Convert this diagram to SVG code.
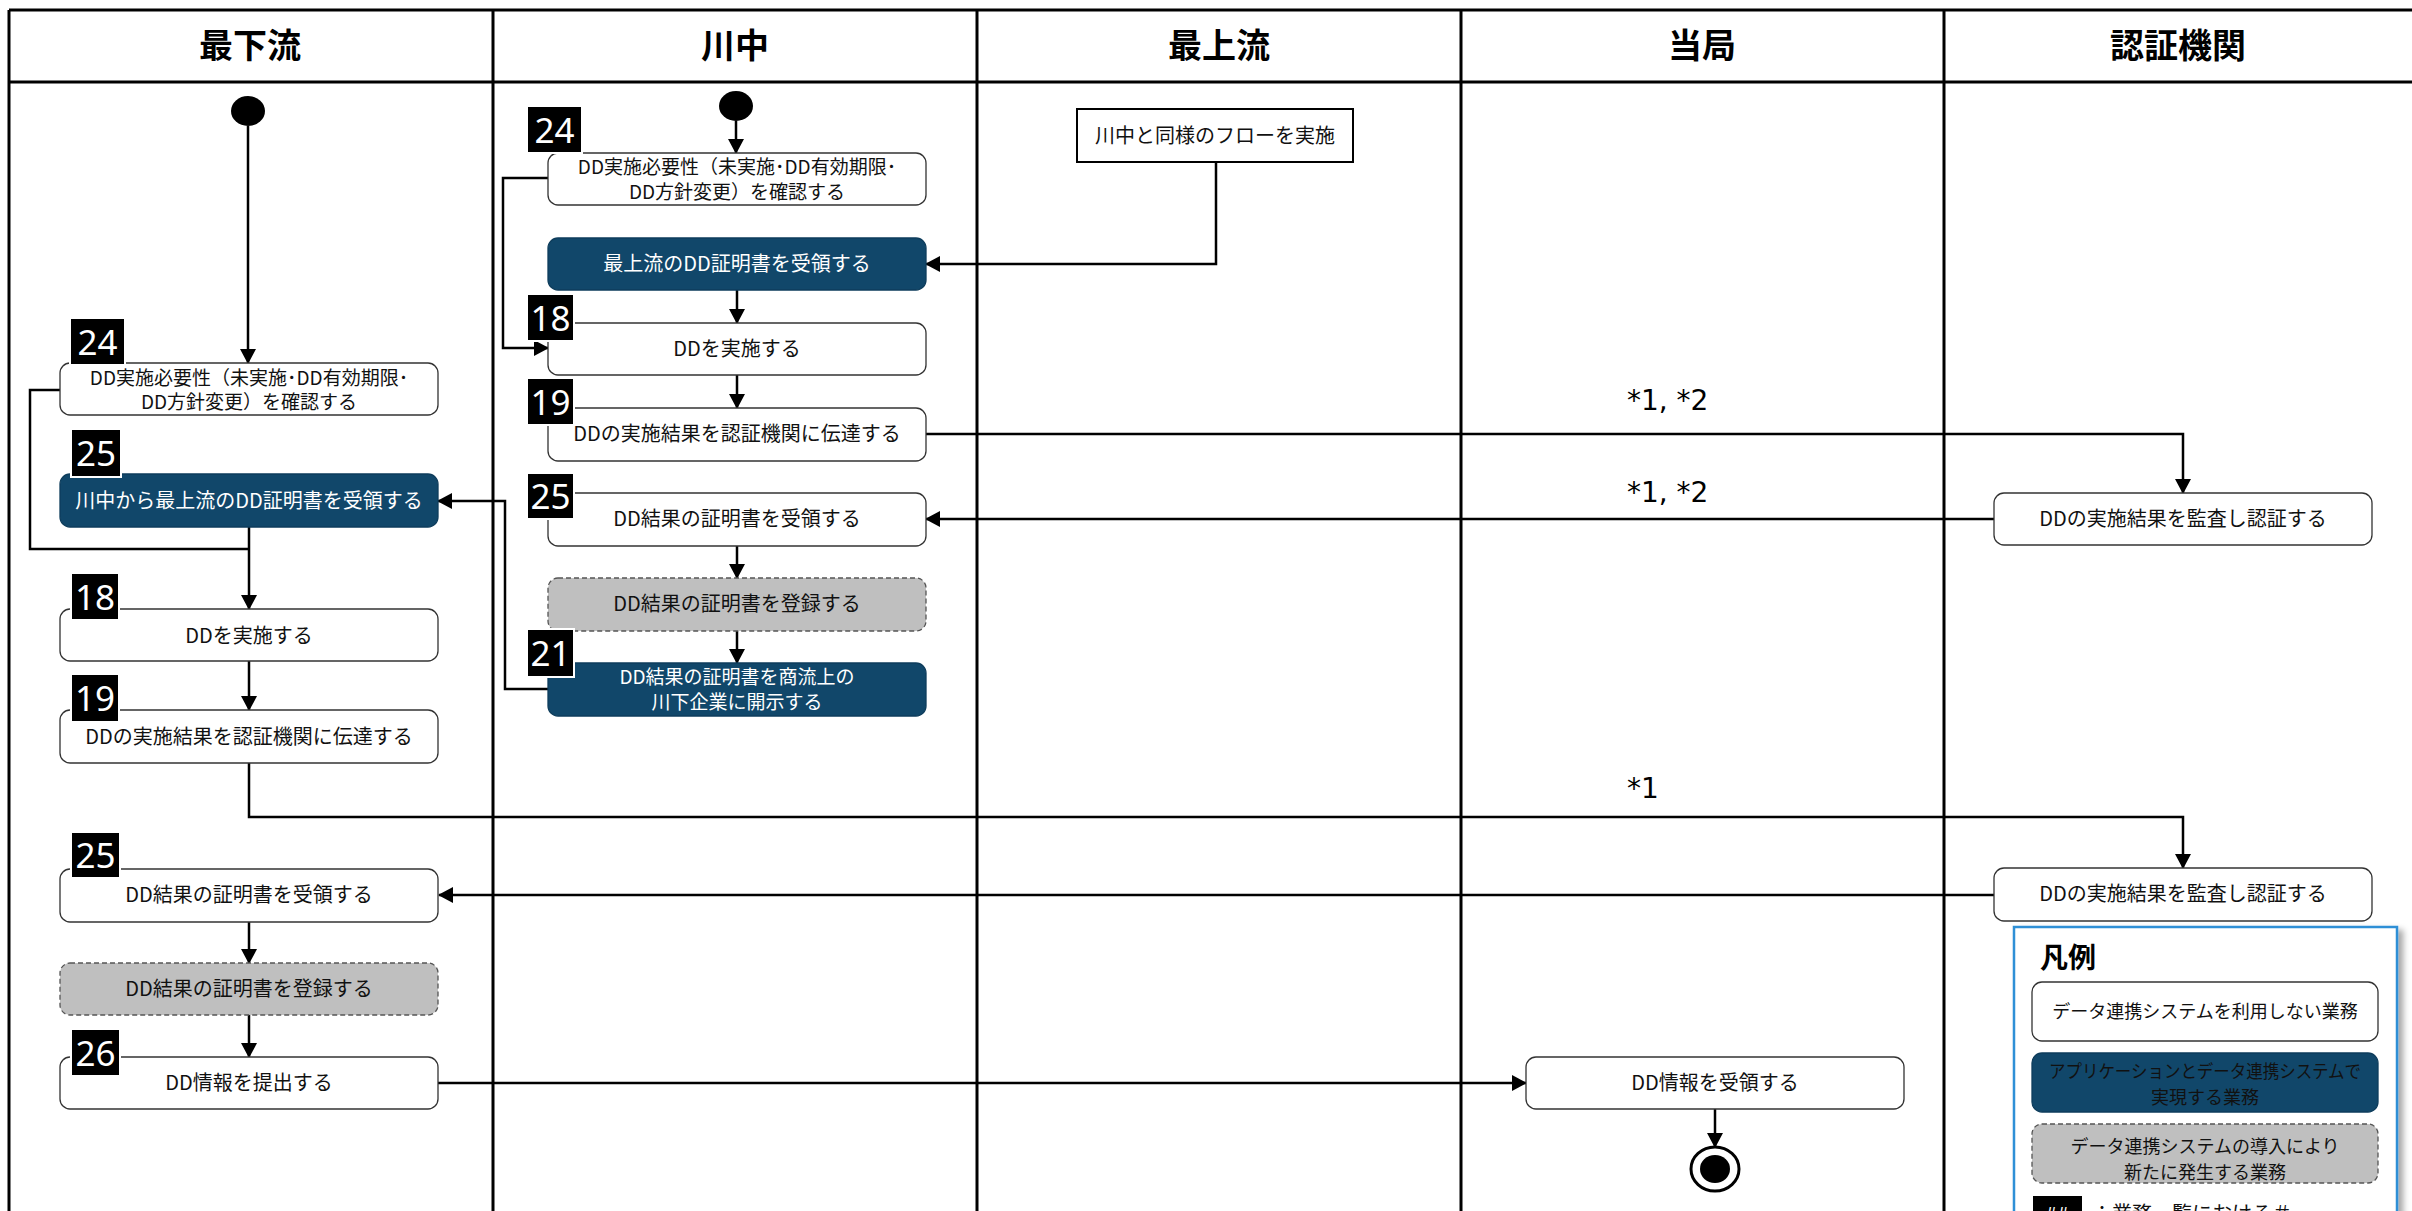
<svg xmlns="http://www.w3.org/2000/svg" width="2412" height="1211" viewBox="0 0 2412 1211">
<style>
.lane{stroke:#000;stroke-width:3;fill:none}
.hd{font-family:"Noto Sans CJK JP","Noto Sans",sans-serif;font-size:34px;font-weight:bold;text-anchor:middle;fill:#000}
.box{fill:#fff;stroke:#333;stroke-width:1.3}
.blue{fill:#11476A;stroke:#0E3D5C;stroke-width:1.3}
.grey{fill:#BFBFBF;stroke:#555;stroke-width:1.3;stroke-dasharray:5 3}
.t{font-family:"Noto Sans CJK JP","Noto Sans",sans-serif;font-size:20px;text-anchor:middle;fill:#111}
.t2{font-size:19px}
.tw{fill:#fff}
.bg{fill:#000;stroke:#fff;stroke-width:2}
.bt{font-family:"Noto Sans","DejaVu Sans",sans-serif;font-size:35px;fill:#fff;text-anchor:middle}
.conn{fill:none;stroke:#000;stroke-width:2.5}
.arr{marker-end:url(#ah)}
.lbl{font-family:"DejaVu Sans",sans-serif;font-size:28px;fill:#000}
.lt{font-family:"Noto Sans CJK JP","Noto Sans",sans-serif;font-size:18px;text-anchor:middle;fill:#111}
</style>
<defs>
<marker id="ah" markerWidth="15" markerHeight="16" refX="14" refY="8" orient="auto" markerUnits="userSpaceOnUse"><path d="M0,0 L15,8 L0,16 z" fill="#000"/></marker>
<filter id="sh" x="-5%" y="-5%" width="115%" height="115%"><feDropShadow dx="5" dy="4" stdDeviation="3" flood-color="#000" flood-opacity="0.35"/></filter>
</defs>
<rect x="0" y="0" width="2412" height="1211" fill="#fff"/>
<g id="lanes">
<line class="lane" x1="9" y1="10" x2="2412" y2="10"/>
<line class="lane" x1="9" y1="82" x2="2412" y2="82"/>
<line class="lane" x1="9" y1="10" x2="9" y2="1211"/>
<line class="lane" x1="493" y1="10" x2="493" y2="1211"/>
<line class="lane" x1="977" y1="10" x2="977" y2="1211"/>
<line class="lane" x1="1461" y1="10" x2="1461" y2="1211"/>
<line class="lane" x1="1944" y1="10" x2="1944" y2="1211"/>
<text class="hd" x="250" y="58">最下流</text>
<text class="hd" x="735" y="58">川中</text>
<text class="hd" x="1219" y="58">最上流</text>
<text class="hd" x="1702" y="58">当局</text>
<text class="hd" x="2178" y="58">認証機関</text>
</g>
<g id="connectors">
<path class="conn arr" d="M248,126 V363"/>
<path class="conn" d="M60,390 H30 V549 H249"/>
<path class="conn arr" d="M249,527 V609"/>
<path class="conn arr" d="M249,661 V710"/>
<path class="conn arr" d="M249,763 V817 H2183 V868"/>
<path class="conn arr" d="M1994,895 H439"/>
<path class="conn arr" d="M249,922 V963"/>
<path class="conn arr" d="M249,1015 V1057"/>
<path class="conn arr" d="M438,1083 H1526"/>
<path class="conn arr" d="M1715,1109 V1147"/>
<path class="conn arr" d="M736,121 V153"/>
<path class="conn arr" d="M548,178 H503 V348 H548"/>
<path class="conn arr" d="M1216,162 V264 H926"/>
<path class="conn arr" d="M737,290 V323"/>
<path class="conn arr" d="M737,375 V408"/>
<path class="conn arr" d="M926,434 H2183 V493"/>
<path class="conn arr" d="M1994,519 H926"/>
<path class="conn arr" d="M737,546 V578"/>
<path class="conn arr" d="M737,631 V663"/>
<path class="conn arr" d="M548,689 H505 V501 H438"/>
<text class="lbl" x="1627" y="410">*1, *2</text>
<text class="lbl" x="1627" y="502">*1, *2</text>
<text class="lbl" x="1627" y="798">*1</text>
</g>
<g id="start-L"><ellipse cx="248" cy="111" rx="17" ry="15" fill="#000"/></g>
<g id="n24L"><rect class="box" x="60" y="363" width="378" height="52" rx="10"/><text class="t t2" x="249" y="385">DD実施必要性（未実施･DD有効期限･</text><text class="t t2" x="249" y="409">DD方針変更）を確認する</text><rect class="bg" x="70" y="318" width="55" height="47"/><text class="bt" x="97.5" y="355">24</text></g>
<g id="n25L"><rect class="blue" x="60" y="474" width="378" height="53" rx="10"/><text class="t tw" x="249" y="508">川中から最上流のDD証明書を受領する</text><rect class="bg" x="71" y="429" width="50" height="48"/><text class="bt" x="96" y="466">25</text></g>
<g id="n18L"><rect class="box" x="60" y="609" width="378" height="52" rx="10"/><text class="t" x="249" y="643">DDを実施する</text><rect class="bg" x="71" y="573" width="48" height="47"/><text class="bt" x="95" y="610">18</text></g>
<g id="n19L"><rect class="box" x="60" y="710" width="378" height="53" rx="10"/><text class="t" x="249" y="744">DDの実施結果を認証機関に伝達する</text><rect class="bg" x="71" y="674" width="48" height="48"/><text class="bt" x="95" y="711">19</text></g>
<g id="n25L2"><rect class="box" x="60" y="869" width="378" height="53" rx="10"/><text class="t" x="249" y="902">DD結果の証明書を受領する</text><rect class="bg" x="71" y="832" width="49" height="46"/><text class="bt" x="95.5" y="868">25</text></g>
<g id="nRegL"><rect class="grey" x="60" y="963" width="378" height="52" rx="10"/><text class="t" x="249" y="996">DD結果の証明書を登録する</text></g>
<g id="n26L"><rect class="box" x="60" y="1057" width="378" height="52" rx="10"/><text class="t" x="249" y="1090">DD情報を提出する</text><rect class="bg" x="71" y="1029" width="49" height="47"/><text class="bt" x="95.5" y="1066">26</text></g>
<g id="start-M"><ellipse cx="736" cy="106" rx="17" ry="15" fill="#000"/></g>
<g id="n24M"><rect class="box" x="548" y="153" width="378" height="52" rx="10"/><text class="t t2" x="737" y="174">DD実施必要性（未実施･DD有効期限･</text><text class="t t2" x="737" y="199">DD方針変更）を確認する</text><rect class="bg" x="527" y="106" width="55" height="47"/><text class="bt" x="554.5" y="143">24</text></g>
<g id="nRecvM"><rect class="blue" x="548" y="238" width="378" height="52" rx="10"/><text class="t tw" x="737" y="271">最上流のDD証明書を受領する</text></g>
<g id="n18M"><rect class="box" x="548" y="323" width="378" height="52" rx="10"/><text class="t" x="737" y="356">DDを実施する</text><rect class="bg" x="527" y="294" width="47" height="47"/><text class="bt" x="550.5" y="331">18</text></g>
<g id="n19M"><rect class="box" x="548" y="408" width="378" height="53" rx="10"/><text class="t" x="737" y="441">DDの実施結果を認証機関に伝達する</text><rect class="bg" x="527" y="378" width="47" height="47"/><text class="bt" x="550.5" y="415">19</text></g>
<g id="n25M"><rect class="box" x="548" y="493" width="378" height="53" rx="10"/><text class="t" x="737" y="526">DD結果の証明書を受領する</text><rect class="bg" x="527" y="473" width="47" height="46"/><text class="bt" x="550.5" y="509">25</text></g>
<g id="nRegM"><rect class="grey" x="548" y="578" width="378" height="53" rx="10"/><text class="t" x="737" y="611">DD結果の証明書を登録する</text></g>
<g id="n21M"><rect class="blue" x="548" y="663" width="378" height="53" rx="10"/><text class="t t2 tw" x="737" y="684">DD結果の証明書を商流上の</text><text class="t t2 tw" x="737" y="709">川下企業に開示する</text><rect class="bg" x="527" y="629" width="47" height="48"/><text class="bt" x="550.5" y="666">21</text></g>
<g id="nUp"><rect x="1077" y="109" width="276" height="53" fill="#fff" stroke="#000" stroke-width="2"/><text class="t" x="1215" y="143">川中と同様のフローを実施</text></g>
<g id="nAud1"><rect class="box" x="1994" y="493" width="378" height="52" rx="10"/><text class="t" x="2183" y="526">DDの実施結果を監査し認証する</text></g>
<g id="nAud2"><rect class="box" x="1994" y="868" width="378" height="53" rx="10"/><text class="t" x="2183" y="901">DDの実施結果を監査し認証する</text></g>
<g id="nAuth"><rect class="box" x="1526" y="1057" width="378" height="52" rx="10"/><text class="t" x="1715" y="1090">DD情報を受領する</text></g>
<g id="end"><ellipse cx="1715" cy="1169" rx="24" ry="22" fill="#fff" stroke="#000" stroke-width="3"/><ellipse cx="1715" cy="1169" rx="15" ry="14" fill="#000"/></g>
<g id="legend">
<rect x="2014" y="927" width="383" height="310" fill="#fff" stroke="#2E8FD6" stroke-width="2.5" filter="url(#sh)"/>
<text x="2040" y="968" font-family="Noto Sans CJK JP, Noto Sans, sans-serif" font-size="28" font-weight="bold" fill="#000">凡例</text>
<rect class="box" x="2032" y="982" width="346" height="59" rx="10"/><text class="lt" x="2205" y="1018">データ連携システムを利用しない業務</text>
<rect class="blue" x="2032" y="1053" width="346" height="59" rx="10"/><text class="lt tw" x="2205" y="1078" textLength="312" lengthAdjust="spacingAndGlyphs">アプリケーションとデータ連携システムで</text><text class="lt tw" x="2205" y="1104">実現する業務</text>
<rect class="grey" x="2032" y="1124" width="346" height="59" rx="10"/><text class="lt" x="2205" y="1153">データ連携システムの導入により</text><text class="lt" x="2205" y="1179">新たに発生する業務</text>
<rect x="2033" y="1196" width="49" height="30" fill="#000"/><text x="2057" y="1220" font-family="Noto Sans, sans-serif" font-size="18" fill="#fff" text-anchor="middle">##</text>
<text x="2092" y="1221" font-family="Noto Sans CJK JP, Noto Sans, sans-serif" font-size="20" fill="#111">：業務一覧における＃</text>
</g>
</svg>
